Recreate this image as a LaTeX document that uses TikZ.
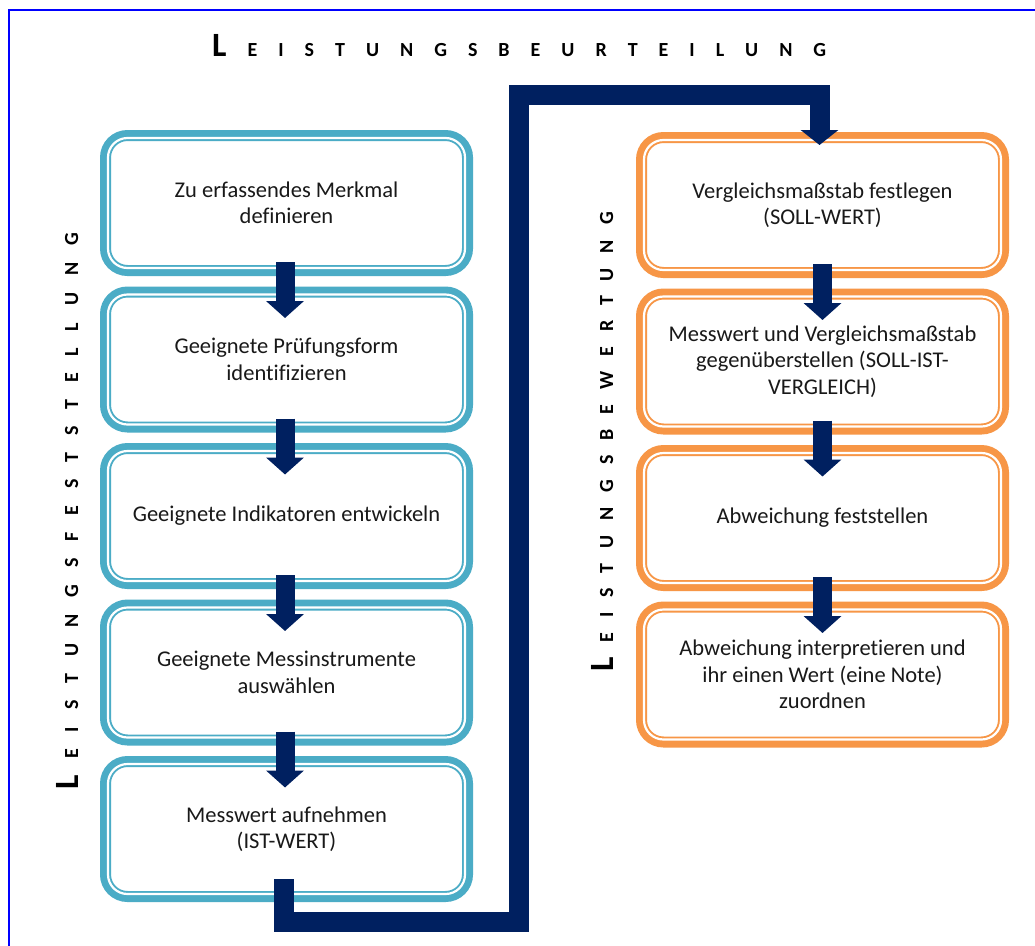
\documentclass[tikz,border=0pt]{standalone}
\usepackage{fontspec}
\setmainfont{Carlito}[Ligatures={NoCommon}]
\usetikzlibrary{arrows.meta}
\definecolor{boxblue}{HTML}{4BACC6}
\definecolor{boxorange}{HTML}{F79646}
\definecolor{navy}{HTML}{002060}
\definecolor{framblue}{HTML}{0000FF}
\makeatletter
\newcommand\spreadword[2]{\def\sw@gap{#1}\@tfor\sw@c:=#2\do{\sw@c\hspace{\sw@gap}}\unskip}
\makeatother
\tikzset{
  stepbox/.style={rectangle, minimum width=362pt, minimum height=135pt, line width=11pt,
    rounded corners=22pt, align=center, fill=white, text=black!90,
    font=\fontsize{22.5}{26.5}\selectfont, inner sep=0pt},
  bluebox/.style={stepbox, draw=boxblue},
  orangebox/.style={stepbox, draw=boxorange},
  innerline/.style={draw=white, line width=2.2pt, rounded corners=19.5pt},
  flowarrow/.style={draw=navy, line width=19pt, -{Triangle[length=17pt,width=37pt]}},
  connector/.style={draw=navy, line width=20pt, line join=miter, -{Triangle[length=15pt,width=37pt]}},
  spaced/.style={font=\bfseries\fontsize{20}{20}\selectfont, inner sep=0pt, text=black},
}
\begin{document}
\begin{tikzpicture}[x=1pt,y=-1pt]
\useasboundingbox (0,0) rectangle (1035,945);
\fill[white] (0,0) rectangle (1035,945);
\draw[framblue, line width=2.5pt] (9,946) -- (9,10) -- (1036,10);

% title and side labels
\node[spaced, anchor=base west] (title) at (212,56)
  {{\fontsize{34}{34}\selectfont L}\hspace{21pt}\spreadword{21pt}{EISTUNGSBEURTEILUNG}};
\node[spaced, rotate=90, anchor=base west] (leftlabel) at (78,790)
  {{\fontsize{34}{34}\selectfont L}\hspace{16.8pt}\spreadword{16.8pt}{EISTUNGSFESTSTELLUNG}};
\node[spaced, rotate=90, anchor=base west] (rightlabel) at (613,672)
  {{\fontsize{34}{34}\selectfont L}\hspace{14.9pt}\spreadword{14.9pt}{EISTUNGSBEWERTUNG}};

% left column
\node[bluebox] (b1) at (286.5,203) {Zu erfassendes Merkmal\\definieren};
\node[bluebox] (b2) at (286.5,359.5) {Geeignete Prüfungsform\\identifizieren};
\node[bluebox] (b3) at (286.5,516) {Geeignete Indikatoren entwickeln};
\node[bluebox] (b4) at (286.5,672.5) {Geeignete Messinstrumente\\auswählen};
\node[bluebox] (b5) at (286.5,829) {Messwert aufnehmen\\(IST-WERT)};

% right column
\node[orangebox] (r1) at (822.5,205) {Vergleichsmaßstab festlegen\\(SOLL-WERT)};
\node[orangebox] (r2) at (822.5,361.5) {Messwert und Vergleichsmaßstab\\gegenüberstellen (SOLL-IST-\\VERGLEICH)};
\node[orangebox] (r3) at (822.5,518) {Abweichung feststellen};
\node[orangebox] (r4) at (822.5,674.5) {Abweichung interpretieren und\\ihr einen Wert (eine Note)\\zuordnen};

\foreach \n in {b1,b2,b3,b4,b5,r1,r2,r3,r4}
  \draw[innerline] ([shift={(8,8)}]\n.north west) rectangle ([shift={(-8,-8)}]\n.south east);

% arrows between boxes
\draw[flowarrow] ([xshift=-1.5pt,yshift=14pt]b1.south) -- ([xshift=-1.5pt,yshift=-31.5pt]b2.north);
\draw[flowarrow] ([xshift=-1.5pt,yshift=14pt]b2.south) -- ([xshift=-1.5pt,yshift=-31.5pt]b3.north);
\draw[flowarrow] ([xshift=-1.5pt,yshift=14pt]b3.south) -- ([xshift=-1.5pt,yshift=-31.5pt]b4.north);
\draw[flowarrow] ([xshift=-1.5pt,yshift=14pt]b4.south) -- ([xshift=-1.5pt,yshift=-31.5pt]b5.north);
\draw[flowarrow] ([yshift=14pt]r1.south) -- ([yshift=-31.5pt]r2.north);
\draw[flowarrow] ([yshift=14pt]r2.south) -- ([yshift=-31.5pt]r3.north);
\draw[flowarrow] ([yshift=14pt]r3.south) -- ([yshift=-31.5pt]r4.north);

% connector from left column to right column
\coordinate (lowturn) at (519,921.5);
\coordinate (highturn) at (519,95);
\draw[connector] ([xshift=-3pt,yshift=23pt]b5.south) |- (lowturn) -- (highturn) -| ([xshift=-3pt,yshift=-13pt]r1.north);
\end{tikzpicture}
\end{document}
